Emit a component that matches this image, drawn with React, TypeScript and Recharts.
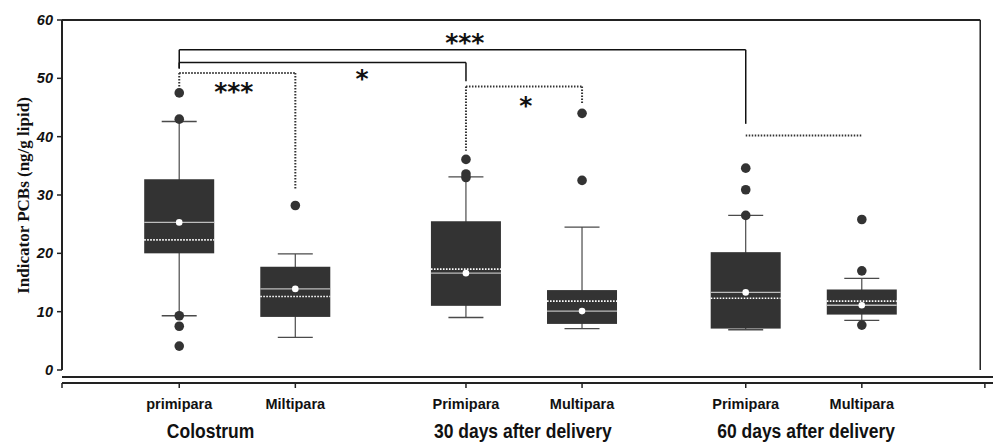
import React from 'react';
import { ComposedChart, Bar, Scatter, XAxis, YAxis, ReferenceLine } from 'recharts';

// ---- data ----
const categories = ['primipara', 'Miltipara', 'Primipara', 'Multipara', 'Primipara', 'Multipara'];
const groups = ['Colostrum', '30 days after delivery', '60 days after delivery'];
const positions = [1.01, 2.01, 3.48, 4.48, 5.89, 6.89];
const groupLabelX = [1.28, 3.97, 6.41];
const whiskerLow = [9.3, 5.6, 9.0, 7.1, 6.9, 8.5];
const q1 = [20.0, 9.1, 11.0, 7.9, 7.1, 9.5];
const median = [25.3, 13.9, 16.6, 10.1, 13.3, 11.1];
const mean = [22.3, 12.6, 17.3, 11.8, 12.3, 11.8];
const q3 = [32.7, 17.7, 25.5, 13.7, 20.2, 13.8];
const whiskerHigh = [42.6, 19.9, 33.1, 24.5, 26.5, 15.7];
const outliers = [
  [47.5, 43.0, 9.3, 7.5, 4.1],
  [28.2],
  [36.1, 33.6, 33.0],
  [44.0, 32.5],
  [34.6, 30.9, 26.5],
  [25.8, 17.0, 7.7],
];
const yTicks = [0, 10, 20, 30, 40, 50, 60];
const solidBrackets = [
  { from: 0, to: 4, level: 54.9, left: 51.7, right: 42.2 },
  { from: 0, to: 2, level: 52.7, left: 51.7, right: 49.5 },
];
const dottedBrackets = [
  { from: 0, to: 1, level: 50.9, left: 48.3, right: 31.0 },
  { from: 2, to: 3, level: 48.6, left: 37.6, right: 45.7 },
  { from: 4, to: 5, level: 40.2, left: 40.2, right: 40.2 },
];
const annotationText = ['***', '*', '***', '*'];
const annotationX = [3.47, 2.585, 1.48, 3.995];
const annotationY = [57.1, 51.0, 48.7, 46.3];

const X_MAX = 8.02;
const FRAME_X = 7.91;
const END_TICK = 7.95;

const rows = categories.map((name, i) => ({
  pos: positions[i],
  name,
  lo: whiskerLow[i],
  q1: q1[i],
  med: median[i],
  mean: mean[i],
  q3: q3[i],
  hi: whiskerHigh[i],
}));
const outlierPoints = outliers.flatMap((arr, i) => arr.map((v) => ({ pos: positions[i], v })));
const annotationPoints = annotationText.map((text, i) => ({ pos: annotationX[i], v: annotationY[i], text }));

const BoxShape = (props: any) => {
  const { x, y, width, height, payload } = props;
  if (!payload) return null;
  const { lo, hi } = payload;
  const top = Math.min(y, y + height);
  const h = Math.abs(height);
  const k = h / (hi - lo);
  const py = (v: number) => top + (hi - v) * k;
  const cx = x + width / 2;
  const cap = width * 0.25;
  const wc = '#4a4a4a';
  return (
    <g>
      <line x1={cx} x2={cx} y1={py(hi)} y2={py(lo)} stroke={wc} strokeWidth={1.2} />
      <line x1={cx - cap} x2={cx + cap} y1={py(hi)} y2={py(hi)} stroke={wc} strokeWidth={1.3} />
      <line x1={cx - cap} x2={cx + cap} y1={py(lo)} y2={py(lo)} stroke={wc} strokeWidth={1.3} />
      <rect x={x} y={py(payload.q3)} width={width} height={py(payload.q1) - py(payload.q3)} fill="#333333" />
      <line x1={x} x2={x + width} y1={py(payload.med)} y2={py(payload.med)} stroke="#bdbdbd" strokeWidth={1.3} />
      <line x1={x} x2={x + width} y1={py(payload.mean)} y2={py(payload.mean)} stroke="#ffffff" strokeWidth={1.6} strokeDasharray="1.6 1.4" />
      <circle cx={cx} cy={py(payload.med)} r={3.3} fill="#ffffff" />
    </g>
  );
};

const OutlierShape = (props: any) => <circle cx={props.cx} cy={props.cy} r={4.8} fill="#333333" />;

const AnnotationShape = (props: any) => (
  <text
    x={props.cx}
    y={props.cy}
    dy="0.58em"
    textAnchor="middle"
    fontFamily="DejaVu Sans"
    fontWeight="bold"
    fontSize={25}
    fill="#111"
  >
    {props.payload.text}
  </text>
);

const CatTick = (props: any) => {
  const { x, y, payload } = props;
  const i = positions.indexOf(payload.value);
  if (i < 0) return null;
  return (
    <text x={x} y={y + 19} textAnchor="middle" fontFamily="Liberation Sans" fontWeight="bold" fontSize={14.5} fill="#111">
      {categories[i]}
    </text>
  );
};

const GroupTick = (props: any) => {
  const { x, y, payload } = props;
  const i = groupLabelX.indexOf(payload.value);
  if (i < 0) return null;
  return (
    <text
      transform={`translate(${x} ${y + 25}) scale(1 1.15)`}
      x={0}
      y={0}
      textAnchor="middle"
      fontFamily="Liberation Sans"
      fontWeight="bold"
      fontSize={17.5}
      fill="#111"
    >
      {groups[i]}
    </text>
  );
};

const YTitle = (props: any) => {
  const vb = props.viewBox || { x: 0, y: 20, width: 62, height: 357 };
  const cx = vb.x + 29;
  const cy = vb.y + vb.height / 2 - 3;
  return (
    <text
      x={cx}
      y={cy}
      transform={`rotate(-90 ${cx} ${cy})`}
      textAnchor="middle"
      fontFamily="Liberation Serif"
      fontWeight="bold"
      fontSize={17}
      fill="#111"
    >
      Indicator PCBs (ng/g lipid)
    </text>
  );
};

export default function App() {
  const segs: any[] = [];
  solidBrackets.forEach((b, i) => {
    segs.push({ key: `s${i}h`, dotted: false, seg: [{ x: positions[b.from], y: b.level }, { x: positions[b.to], y: b.level }] });
    segs.push({ key: `s${i}l`, dotted: false, seg: [{ x: positions[b.from], y: b.level }, { x: positions[b.from], y: b.left }] });
    segs.push({ key: `s${i}r`, dotted: false, seg: [{ x: positions[b.to], y: b.level }, { x: positions[b.to], y: b.right }] });
  });
  dottedBrackets.forEach((b, i) => {
    segs.push({ key: `d${i}h`, dotted: true, seg: [{ x: positions[b.from], y: b.level }, { x: positions[b.to], y: b.level }] });
    if (b.left !== b.level)
      segs.push({ key: `d${i}l`, dotted: true, seg: [{ x: positions[b.from], y: b.level }, { x: positions[b.from], y: b.left }] });
    if (b.right !== b.level)
      segs.push({ key: `d${i}r`, dotted: true, seg: [{ x: positions[b.to], y: b.level }, { x: positions[b.to], y: b.right }] });
  });

  return (
    <div style={{ position: 'absolute', left: 0, top: 0, background: '#fff' }}>
      <ComposedChart width={993} height={446} data={rows} margin={{ top: 20, right: 0, bottom: 0, left: 0 }}>
        <XAxis
          xAxisId="a"
          dataKey="pos"
          type="number"
          domain={[0, X_MAX]}
          allowDataOverflow
          tick={false}
          tickLine={false}
          axisLine={{ stroke: '#222', strokeWidth: 2 }}
          height={6}
        />
        <XAxis
          xAxisId="b"
          dataKey="pos"
          type="number"
          domain={[0, X_MAX]}
          allowDataOverflow
          ticks={[0, ...positions, END_TICK]}
          interval={0}
          tick={<CatTick />}
          tickSize={5}
          tickLine={{ stroke: '#222', strokeWidth: 1.5 }}
          axisLine={{ stroke: '#222', strokeWidth: 2 }}
          height={30}
        />
        <XAxis
          xAxisId="g"
          dataKey="pos"
          type="number"
          domain={[0, X_MAX]}
          allowDataOverflow
          ticks={groupLabelX}
          interval={0}
          tick={<GroupTick />}
          tickSize={0}
          tickMargin={0}
          tickLine={false}
          axisLine={false}
          height={33}
        />
        <YAxis
          type="number"
          domain={[-1.2, 60]}
          allowDataOverflow
          ticks={yTicks}
          interval={0}
          width={62}
          axisLine={false}
          tickSize={5}
          tickMargin={4}
          tickLine={{ stroke: '#222', strokeWidth: 1.5 }}
          tick={{ fill: '#111', fontSize: 14.5, fontStyle: 'italic', fontWeight: 'bold', fontFamily: 'Liberation Sans' }}
          label={{ content: <YTitle /> }}
        />
        <ReferenceLine xAxisId="b" segment={[{ x: 0, y: 0 }, { x: 0, y: 60 }]} stroke="#222" strokeWidth={2} />
        <ReferenceLine xAxisId="b" segment={[{ x: 0, y: 60 }, { x: FRAME_X, y: 60 }]} stroke="#222" strokeWidth={2} />
        <ReferenceLine xAxisId="b" segment={[{ x: FRAME_X, y: 0 }, { x: FRAME_X, y: 60 }]} stroke="#222" strokeWidth={1.5} />
        {segs.map((s) => (
          <ReferenceLine
            key={s.key}
            xAxisId="b"
            segment={s.seg}
            stroke={s.dotted ? '#333' : '#111'}
            strokeWidth={s.dotted ? 2 : 1.5}
            strokeDasharray={s.dotted ? '1.5 1.5' : undefined}
          />
        ))}
        <Bar xAxisId="b" dataKey={(d: any) => [d.lo, d.hi]} barSize={70} shape={<BoxShape />} isAnimationActive={false} />
        <Scatter xAxisId="b" data={outlierPoints} dataKey="v" shape={<OutlierShape />} isAnimationActive={false} />
        <Scatter xAxisId="g" data={annotationPoints} dataKey="v" shape={<AnnotationShape />} isAnimationActive={false} />
      </ComposedChart>
    </div>
  );
}
